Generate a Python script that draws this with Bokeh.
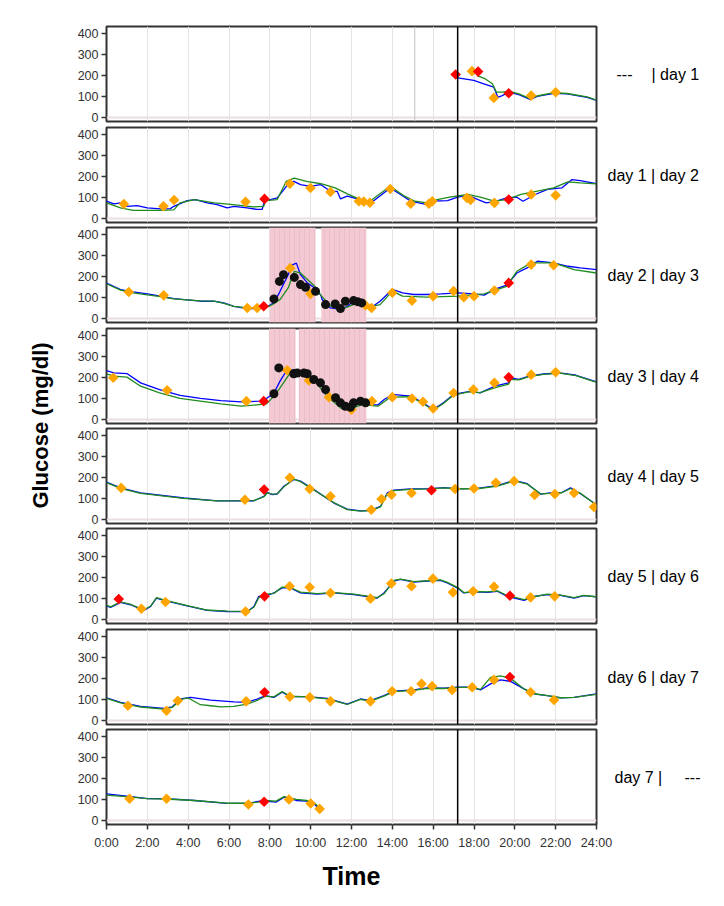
import numpy as np
from bokeh.plotting import figure
from bokeh.models import Span, Label, FixedTicker, Range1d, BoxAnnotation
from bokeh.layouts import row, column
from bokeh.embed import file_html
from bokeh.resources import INLINE

# ---------------- data (hours of day, glucose mg/dl) ----------------
X_TICKS = list(range(0, 25, 2))
X_TICK_LABELS = {h: f"{h}:00" for h in X_TICKS}
Y_TICKS = [0, 100, 200, 300, 400]
NOW_HOUR = 17.2
PANEL1_EXTRA_LINE = 15.1

PANEL_LABELS = [("---", "| day 1"), "day 1 | day 2", "day 2 | day 3", "day 3 | day 4",
                "day 4 | day 5", "day 5 | day 6", "day 6 | day 7", ("day 7 |", "---")]

# panel 1
P1_BLUE_T = [17.21, 17.99, 18.48, 18.97, 19.17, 19.38, 19.71, 20.2, 20.77, 21.09, 21.91, 22.56, 23.54, 24.0]
P1_BLUE_V = [188, 176, 160, 144, 96, 104, 120, 109, 85, 100, 115, 112, 96, 81]
P1_GREEN_T = [18.15, 18.56, 18.9, 19.1, 19.38, 19.71, 20.2, 20.77, 21.09, 21.91, 22.56, 23.54, 24.0]
P1_GREEN_V = [199, 183, 160, 120, 120, 125, 112, 88, 102, 118, 114, 98, 83]
P1_ORANGE_T = [17.9, 18.97, 20.8, 22.0]
P1_ORANGE_V = [220, 93, 104, 120]
P1_RED_T = [17.1, 18.2, 19.7]
P1_RED_V = [204, 218, 115]

# panel 2
P2_BLUE_T = [0, 0.36, 0.69, 1.0, 1.5, 2.0, 2.64, 3.13, 3.3, 3.95, 4.36, 4.93, 5.42, 5.91, 6.24, 6.89, 7.38,
             7.62, 7.74, 8.03, 8.36, 8.69, 8.93, 9.18, 9.5, 9.99, 10.48, 10.97, 11.3, 11.46, 11.79, 12.11,
             12.44, 12.93, 13.9, 14.4, 14.9, 15.7, 16.0, 16.7, 17.2, 17.7, 18.2, 18.6, 19.1, 19.6, 20.1,
             20.4, 21.0, 21.6, 22.3, 22.8, 23.2, 24.0]
P2_BLUE_V = [82, 69, 74, 58, 61, 50, 46, 47, 58, 85, 90, 74, 66, 50, 58, 50, 43,
             43, 82, 90, 98, 137, 169, 176, 161, 153, 161, 129, 129, 93, 106, 98,
             90, 72, 145, 114, 82, 66, 82, 85, 101, 111, 90, 74, 82, 98, 101,
             82, 114, 138, 145, 185, 180, 166]
P2_GREEN_T = [0, 0.69, 1.3, 2.64, 3.3, 3.6, 4.3, 5.3, 6.2, 7.2, 7.7, 7.8, 8.36, 8.8, 9.2, 9.8, 10.5, 11.2,
              11.8, 12.44, 12.9, 13.9, 14.6, 15.1, 15.7, 16.2, 16.8, 17.7, 18.3, 19.0, 19.6, 20.3, 21.1,
              21.9, 22.6, 23.2, 24.0]
P2_GREEN_V = [74, 50, 39, 39, 41, 74, 90, 74, 66, 55, 58, 85, 90, 176, 192, 176, 165, 145,
              117, 90, 82, 153, 106, 82, 74, 90, 101, 114, 101, 82, 90, 114, 130,
              145, 174, 169, 164]
P2_ORANGE_T = [0.85, 2.79, 3.31, 6.81, 8.98, 9.99, 10.97, 12.36, 12.6, 12.9, 13.9, 14.9, 15.79, 15.96,
               17.65, 17.83, 19.0, 20.8, 22.0]
P2_ORANGE_V = [69, 58, 88, 79, 165, 145, 126, 82, 80, 75, 140, 70, 70, 82, 98, 88, 74, 114, 110]
P2_RED_T = [7.74, 19.7]
P2_RED_V = [93, 90]

# panel 3
P3_BLUE_T = [0, 0.69, 1.3, 2.0, 2.64, 3.3, 4.6, 5.26, 5.75, 6.24, 6.9, 7.5, 7.9, 8.2, 8.5, 8.9, 9.1, 9.3,
             9.5, 9.85, 10.2, 10.5, 10.56, 10.97, 11.46, 11.8, 12.1, 12.44, 12.93, 13.4, 14.0, 14.5,
             15.05, 15.7, 16.4, 17.2, 18.0, 18.5, 19.0, 19.6, 20.1, 20.6, 21.1, 21.9, 22.6, 23.2, 24.0]
P3_BLUE_V = [168, 137, 126, 117, 106, 94, 82, 82, 74, 58, 47, 47, 58, 74, 129, 208, 255, 263,
             208, 168, 145, 110, 90, 50, 43, 58, 82, 74, 50, 82, 138, 122,
             114, 114, 117, 122, 117, 111, 138, 158, 216, 240, 272, 264, 248, 240, 232]
P3_GREEN_T = [0, 0.69, 1.3, 2.0, 2.64, 3.3, 4.6, 5.26, 5.75, 6.24, 6.9, 7.5, 7.9, 8.2, 8.5, 8.9, 9.2, 9.5,
              10.2, 10.5, 11.0, 11.5, 12.1, 12.44, 12.93, 13.4, 14.0, 14.5, 15.7, 17.2, 18.5, 19.6,
              20.1, 20.8, 21.9, 22.9, 24.0]
P3_GREEN_V = [165, 135, 122, 112, 104, 93, 84, 82, 72, 58, 50, 50, 55, 70, 90, 145, 224, 216,
              153, 110, 58, 43, 66, 70, 55, 66, 130, 106, 101, 106, 117, 153,
              224, 264, 264, 232, 216]
P3_ORANGE_T = [1.09, 2.8, 6.9, 7.38, 9.0, 9.99, 12.68, 12.98, 14.0, 14.96, 16.0, 17.0, 17.5, 18.0, 19.0,
               20.8, 21.9]
P3_ORANGE_V = [126, 110, 50, 50, 239, 117, 63, 50, 122, 85, 106, 130, 101, 106, 133, 256, 253]
P3_RED_T = [7.7, 19.7]
P3_RED_V = [58, 169]
P3_BLACK_T = [8.2, 8.47, 8.67, 9.2, 9.5, 9.75, 10.24, 10.73, 11.2, 11.46, 11.7, 12.1, 12.3, 12.5]
P3_BLACK_V = [93, 176, 208, 195, 161, 148, 129, 66, 69, 47, 82, 85, 80, 74]
P3_SHADE_START = [8.0, 10.52]
P3_SHADE_END = [10.24, 12.73]

# panel 4
P4_BLUE_T = [0, 0.36, 1.0, 1.67, 2.6, 3.6, 4.6, 5.6, 6.6, 7.5, 7.84, 8.2, 8.5, 8.8, 9.2, 9.5, 9.8, 10.2,
             10.5, 10.8, 11.2, 11.5, 11.8, 12.1, 12.44, 12.9, 13.3, 13.6, 14.0, 14.9, 15.5, 16.0, 16.5,
             17.0, 17.8, 18.3, 19.0, 19.7, 19.8, 20.2, 20.7, 21.4, 22.2, 23.0, 24.0]
P4_BLUE_V = [232, 221, 218, 174, 142, 115, 100, 90, 84, 87, 100, 126, 182, 229, 237, 232, 213, 198,
             166, 126, 87, 63, 52, 63, 80, 68, 70, 95, 119, 111, 79, 47, 79,
             119, 134, 126, 158, 174, 197, 190, 206, 216, 221, 210, 179]
P4_GREEN_T = [0, 0.36, 1.0, 1.67, 2.6, 3.6, 4.6, 5.6, 6.6, 7.2, 7.84, 8.2, 8.5, 9.0, 9.5, 10.2, 10.8, 11.5,
              12.0, 12.5, 13.3, 13.9, 14.9, 15.5, 16.0, 16.5, 17.0, 17.8, 18.3, 19.0, 19.7, 19.8, 20.2,
              20.7, 21.4, 22.2, 23.0, 24.0]
P4_GREEN_V = [217, 206, 201, 158, 126, 100, 87, 74, 63, 68, 74, 111, 150, 221, 229, 182, 111, 52,
              52, 71, 63, 106, 108, 76, 45, 76, 116, 132, 128, 150, 168, 190, 188,
              204, 214, 220, 208, 176]
P4_ORANGE_T = [0.33, 2.97, 6.85, 8.85, 9.91, 10.9, 12.0, 13.0, 14.0, 14.96, 15.5, 16.0, 17.0, 17.97, 19.0,
               20.8, 22.0]
P4_ORANGE_V = [198, 139, 87, 234, 185, 106, 47, 87, 106, 100, 84, 52, 126, 142, 174, 213, 224]
P4_RED_T = [7.7, 19.7]
P4_RED_V = [87, 200]
P4_BLACK_T = [8.2, 8.44, 9.17, 9.34, 9.67, 9.83, 10.15, 10.48, 10.73, 11.22, 11.46, 11.7, 11.95, 12.1,
              12.44, 12.69]
P4_BLACK_V = [122, 245, 217, 221, 221, 217, 190, 174, 142, 103, 79, 63, 58, 79, 87, 79]
P4_SHADE_START = [7.97, 9.42]
P4_SHADE_END = [9.26, 12.73]

# panel 5
P5_BLUE_T = [0, 0.69, 1.67, 3.79, 5.42, 7.22, 7.71, 7.87, 8.12, 8.36, 8.69, 9.18, 9.5, 10.16, 11.14, 11.79,
             12.44, 12.93, 13.42, 13.75, 14.08, 14.89, 15.87, 16.53, 17.23, 18.16, 19.14, 19.96, 20.61,
             21.26, 21.75, 22.3, 22.73, 23.22, 24.0]
P5_BLUE_V = [177, 150, 126, 102, 88, 89, 110, 129, 118, 121, 158, 190, 182, 142, 78, 49,
             41, 43, 62, 126, 139, 145, 147, 151, 145, 148, 161, 186, 170,
             120, 126, 128, 150, 122, 70]
P5_GREEN_T = [0, 0.69, 1.67, 3.79, 5.42, 7.22, 7.71, 7.87, 8.12, 8.36, 8.69, 9.18, 9.5, 10.16, 11.14, 11.79,
              12.44, 12.93, 13.42, 13.75, 14.08, 14.89, 15.87, 16.53, 17.23, 18.16, 19.14, 19.96, 20.61,
              21.26, 21.75, 22.3, 22.73, 23.22, 24.0]
P5_GREEN_V = [175, 148, 124, 100, 88, 90, 108, 126, 120, 122, 155, 192, 180, 140, 80, 47,
              40, 42, 60, 122, 137, 143, 145, 150, 146, 146, 158, 183, 168,
              122, 124, 127, 147, 124, 68]
P5_ORANGE_T = [0.72, 6.78, 8.98, 9.95, 10.97, 12.97, 13.47, 13.96, 14.94, 17.07, 18.0, 19.07, 19.96, 20.97,
               21.96, 22.9, 23.88]
P5_ORANGE_V = [150, 94, 198, 145, 110, 46, 97, 118, 126, 145, 147, 174, 182, 116, 121, 126, 59]
P5_RED_T = [7.72, 15.92]
P5_RED_V = [142, 139]

# panel 6
P6_BLUE_T = [0, 0.2, 0.69, 1.18, 1.83, 2.16, 2.45, 2.81, 3.95, 4.93, 5.91, 6.89, 7.22, 7.46, 7.87, 8.2, 8.6,
             9.01, 9.5, 10.32, 11.14, 12.12, 13.26, 13.59, 14.08, 14.4, 15.06, 15.71, 16.36, 16.69,
             17.23, 17.5, 18.0, 18.65, 19.14, 19.63, 20.45, 20.94, 21.59, 22.24, 22.9, 23.38, 24.0]
P6_BLUE_V = [65, 57, 81, 70, 43, 62, 102, 91, 65, 43, 38, 37, 62, 110, 115, 126, 150,
             150, 126, 121, 126, 118, 102, 126, 182, 190, 178, 182, 186, 174,
             147, 126, 131, 129, 134, 110, 91, 110, 118, 115, 102, 113, 107]
P6_GREEN_T = [0, 0.2, 0.69, 1.18, 1.83, 2.16, 2.45, 2.81, 3.95, 4.93, 5.91, 6.89, 7.22, 7.46, 7.87, 8.2, 8.6,
              9.01, 9.5, 10.32, 11.14, 12.12, 13.26, 13.59, 14.08, 14.4, 15.06, 15.71, 16.36, 16.69,
              17.23, 17.5, 18.0, 18.65, 19.14, 19.63, 20.45, 20.94, 21.59, 22.24, 22.9, 23.38, 24.0]
P6_GREEN_V = [68, 60, 84, 72, 45, 64, 104, 93, 66, 45, 40, 39, 58, 104, 120, 124, 154,
              152, 130, 123, 128, 120, 104, 122, 186, 192, 180, 184, 188, 176,
              150, 128, 133, 131, 136, 114, 94, 108, 120, 116, 104, 114, 108]
P6_ORANGE_T = [1.71, 2.89, 6.81, 8.97, 9.95, 10.97, 12.93, 13.95, 14.94, 15.99, 16.97, 17.96, 18.98, 20.77,
               21.95]
P6_ORANGE_V = [51, 83, 38, 158, 153, 126, 99, 171, 158, 194, 129, 134, 156, 105, 110]
P6_RED_T = [0.6, 7.74, 19.76]
P6_RED_V = [97, 110, 113]

# panel 7
P7_BLUE_T = [0, 0.69, 1.67, 2.81, 3.22, 3.63, 4.12, 5.1, 6.24, 6.89, 7.38, 7.79, 8.2, 8.6, 9.01, 9.83,
             10.81, 11.79, 12.44, 12.93, 13.59, 14.08, 15.06, 15.71, 16.53, 17.23, 17.83, 18.32, 18.81,
             19.3, 19.79, 20.45, 20.94, 21.59, 22.24, 22.9, 24.0]
P7_BLUE_V = [107, 86, 67, 57, 65, 102, 110, 97, 88, 86, 102, 118, 110, 134, 113, 113,
             105, 78, 102, 94, 118, 139, 145, 155, 153, 158, 158, 145, 174,
             193, 186, 150, 126, 118, 107, 110, 126]
P7_GREEN_T = [0, 0.69, 1.67, 2.81, 3.22, 3.63, 4.0, 4.6, 5.1, 5.6, 6.24, 6.89, 7.38, 7.79, 8.2, 8.6, 9.01,
              9.83, 10.81, 11.79, 12.44, 12.93, 13.59, 14.08, 15.06, 15.71, 16.53, 17.23, 17.83, 18.32,
              18.81, 19.3, 19.79, 20.45, 20.94, 21.59, 22.24, 22.9, 24.0]
P7_GREEN_V = [105, 84, 64, 54, 62, 100, 107, 75, 70, 65, 67, 78, 95, 115, 112, 137, 115,
              112, 103, 76, 100, 92, 116, 137, 143, 153, 152, 157, 157, 148,
              205, 212, 200, 150, 127, 118, 108, 110, 124]
P7_ORANGE_T = [1.05, 2.94, 3.49, 6.84, 8.98, 9.96, 10.97, 12.93, 13.99, 14.92, 15.43, 15.95, 16.93, 17.91,
               18.98, 20.77, 21.92]
P7_ORANGE_V = [70, 46, 94, 91, 113, 110, 91, 91, 139, 139, 174, 163, 145, 158, 193, 134, 97]
P7_RED_T = [7.74, 19.76]
P7_RED_V = [134, 206]

# panel 8
P8_BLUE_T = [0, 1.1, 2.0, 2.9, 4.3, 5.9, 7.0, 7.5, 7.8, 8.3, 8.7, 9.3, 9.8, 10.2, 10.45]
P8_BLUE_V = [126, 115, 104, 104, 95, 81, 82, 92, 92, 87, 111, 95, 92, 76, 52]
P8_GREEN_T = [0, 1.1, 2.0, 2.9, 4.3, 5.9, 7.0, 7.5, 7.8, 8.3, 8.7, 9.3, 9.8, 10.2, 10.45]
P8_GREEN_V = [120, 112, 104, 102, 95, 82, 82, 88, 95, 92, 113, 100, 95, 82, 58]
P8_ORANGE_T = [1.13, 2.94, 6.95, 8.94, 10.0, 10.44]
P8_ORANGE_V = [103, 103, 76, 100, 81, 55]
P8_RED_T = [7.72]
P8_RED_V = [89]

PANELS = [
    dict(blue=(P1_BLUE_T, P1_BLUE_V), green=(P1_GREEN_T, P1_GREEN_V), orange=(P1_ORANGE_T, P1_ORANGE_V),
         red=(P1_RED_T, P1_RED_V), extra=[PANEL1_EXTRA_LINE]),
    dict(blue=(P2_BLUE_T, P2_BLUE_V), green=(P2_GREEN_T, P2_GREEN_V), orange=(P2_ORANGE_T, P2_ORANGE_V),
         red=(P2_RED_T, P2_RED_V)),
    dict(blue=(P3_BLUE_T, P3_BLUE_V), green=(P3_GREEN_T, P3_GREEN_V), orange=(P3_ORANGE_T, P3_ORANGE_V),
         red=(P3_RED_T, P3_RED_V), black=(P3_BLACK_T, P3_BLACK_V), shade=(P3_SHADE_START, P3_SHADE_END)),
    dict(blue=(P4_BLUE_T, P4_BLUE_V), green=(P4_GREEN_T, P4_GREEN_V), orange=(P4_ORANGE_T, P4_ORANGE_V),
         red=(P4_RED_T, P4_RED_V), black=(P4_BLACK_T, P4_BLACK_V), shade=(P4_SHADE_START, P4_SHADE_END)),
    dict(blue=(P5_BLUE_T, P5_BLUE_V), green=(P5_GREEN_T, P5_GREEN_V), orange=(P5_ORANGE_T, P5_ORANGE_V),
         red=(P5_RED_T, P5_RED_V)),
    dict(blue=(P6_BLUE_T, P6_BLUE_V), green=(P6_GREEN_T, P6_GREEN_V), orange=(P6_ORANGE_T, P6_ORANGE_V),
         red=(P6_RED_T, P6_RED_V)),
    dict(blue=(P7_BLUE_T, P7_BLUE_V), green=(P7_GREEN_T, P7_GREEN_V), orange=(P7_ORANGE_T, P7_ORANGE_V),
         red=(P7_RED_T, P7_RED_V)),
    dict(blue=(P8_BLUE_T, P8_BLUE_V), green=(P8_GREEN_T, P8_GREEN_V), orange=(P8_ORANGE_T, P8_ORANGE_V),
         red=(P8_RED_T, P8_RED_V)),
]

# ---------------- layout ----------------
FONT = "Liberation Sans"
YLAB_W = 66
BORDER_L = 40
FRAME_W = 490
FRAME_H = 95
TOTAL_W = 716
HEIGHTS = [125, 100, 101, 100, 100, 101, 100, 167]
TOPS = [26, 2, 2, 2, 2, 2, 2, 2]
TOTAL_H = sum(HEIGHTS)
Y_LO, Y_HI = -19, 432
LABEL_START = 607      # page x where panel labels begin


def style_axis(ax):
    ax.axis_line_color = None
    ax.major_tick_out = 5
    ax.major_tick_in = 0
    ax.minor_tick_line_color = None
    ax.major_tick_line_color = "#333333"
    ax.major_tick_line_width = 1.5
    ax.major_label_text_font = FONT
    ax.major_label_text_font_size = "12.5px"
    ax.major_label_text_color = "#333333"


def make_panel(i, d, border_r):
    last = i == len(PANELS) - 1
    h = HEIGHTS[i]
    top = TOPS[i]
    bottom = h - top - FRAME_H
    p = figure(width=BORDER_L + FRAME_W + border_r, height=h, x_range=Range1d(0, 24),
               y_range=Range1d(Y_LO, Y_HI), output_backend="svg", toolbar_location=None,
               x_axis_location="below" if last else None,
               min_border_left=BORDER_L, min_border_right=border_r, min_border_top=top,
               min_border_bottom=bottom)
    p.outline_line_color = "#333333"
    p.outline_line_width = 2
    p.background_fill_color = "white"
    p.border_fill_color = "white"

    p.xgrid.ticker = FixedTicker(ticks=X_TICKS)
    p.xgrid.grid_line_color = "#e4e4e4"
    p.xgrid.grid_line_width = 1
    p.ygrid.ticker = FixedTicker(ticks=[0])
    p.ygrid.grid_line_color = "#ecdde1"
    p.ygrid.grid_line_width = 2

    ya = p.yaxis[0]
    ya.ticker = FixedTicker(ticks=Y_TICKS)
    style_axis(ya)
    ya.major_label_standoff = 3

    if last:
        xa = p.xaxis[0]
        xa.ticker = FixedTicker(ticks=X_TICKS)
        xa.major_label_overrides = X_TICK_LABELS
        style_axis(xa)
        xa.major_label_standoff = 6
        xa.axis_label = "Time"
        xa.axis_label_text_font = FONT
        xa.axis_label_text_font_size = "25px"
        xa.axis_label_text_font_style = "bold"
        xa.axis_label_text_color = "black"
        xa.axis_label_standoff = 9

    if "shade" in d:
        for s, e in zip(*d["shade"]):
            p.add_layout(BoxAnnotation(left=s, right=e, fill_color="#f3cad3", fill_alpha=1.0,
                                       line_color=None, hatch_pattern="|", hatch_color="#e6b0bd",
                                       hatch_alpha=0.55, hatch_scale=5, hatch_weight=1,
                                       level="underlay"))
    for x in d.get("extra", []):
        p.add_layout(Span(location=x, dimension="height", line_color="#c4c4c4", line_width=1))

    p.add_layout(Span(location=NOW_HOUR, dimension="height", line_color="black", line_width=1.5))

    p.line(*d["blue"], line_color="#0000ff", line_width=1.3)
    p.line(*d["green"], line_color="#1f8b1f", line_width=1.3)
    p.scatter(*d["orange"], marker="square", angle=np.pi / 4, size=7.5, fill_color="#ffa500",
              line_color=None)
    p.scatter(*d["red"], marker="square", angle=np.pi / 4, size=7.5, fill_color="#ff0000",
              line_color=None)
    if "black" in d:
        p.scatter(*d["black"], marker="circle", size=9, fill_color="#111111", line_color=None)
    return p


def make_label_fig(i, x0):
    # the label figure's frame is aligned with the panel frame inside the row,
    # so the vertical range spans exactly the panel frame (0..1, middle = 0.5)
    h = HEIGHTS[i]
    w = TOTAL_W - x0
    f = figure(width=w, height=h, x_range=Range1d(x0, TOTAL_W), y_range=Range1d(0, 1),
               output_backend="svg", toolbar_location=None, x_axis_location=None,
               y_axis_location=None, min_border=0)
    f.outline_line_color = None
    f.xgrid.visible = False
    f.ygrid.visible = False
    kw = dict(text_font=FONT, text_font_size="16px", text_baseline="middle", text_color="black")
    lab = PANEL_LABELS[i]
    if isinstance(lab, tuple):
        if i == 0:
            f.add_layout(Label(x=616, y=0.5, text=lab[0], **kw))
            f.add_layout(Label(x=651, y=0.5, text=lab[1], **kw))
        else:
            f.add_layout(Label(x=614, y=0.5, text=lab[0], **kw))
            f.add_layout(Label(x=684, y=0.5, text=lab[1], **kw))
    else:
        f.add_layout(Label(x=LABEL_START, y=0.5, text=lab, **kw))
    return f


rows = []
for i, d in enumerate(PANELS):
    br = 18 if i == len(PANELS) - 1 else 4
    p = make_panel(i, d, br)
    x0 = YLAB_W + BORDER_L + FRAME_W + br
    rows.append(row(p, make_label_fig(i, x0)))

# y-axis title column
ylab = figure(width=YLAB_W, height=TOTAL_H, x_range=Range1d(0, YLAB_W), y_range=Range1d(0, TOTAL_H),
              output_backend="svg", toolbar_location=None, x_axis_location=None, y_axis_location=None,
              min_border=0)
ylab.outline_line_color = None
ylab.xgrid.visible = False
ylab.ygrid.visible = False
ylab.add_layout(Label(x=40, y=TOTAL_H - 425, text="Glucose (mg/dl)", angle=np.pi / 2,
                      text_align="center", text_baseline="middle", text_font=FONT,
                      text_font_size="22px", text_font_style="bold", text_color="black"))

layout = row(ylab, column(*rows))

with open("out.html", "w") as f:
    f.write(file_html(layout, INLINE))
